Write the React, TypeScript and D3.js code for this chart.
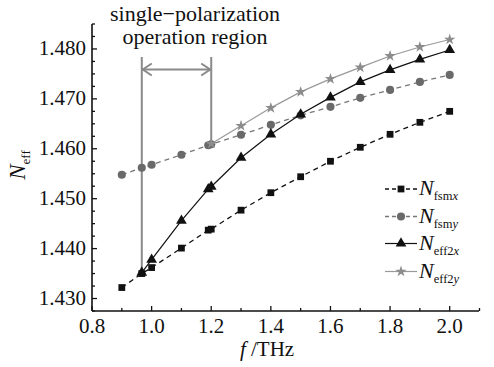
import React, { useEffect, useState } from 'react';
import * as d3 from 'd3';

// frequency (THz) and effective index values
const freqFsm = [0.9, 0.967, 1.0, 1.1, 1.19, 1.2, 1.3, 1.4, 1.5, 1.6, 1.7, 1.8, 1.9, 2.0];
const fsmX = [1.4322, 1.435, 1.4362, 1.4401, 1.4437, 1.4439, 1.4477, 1.4512, 1.4544, 1.4575, 1.4603, 1.4629, 1.4653, 1.4675];
const fsmY = [1.4548, 1.4562, 1.4568, 1.4588, 1.4607, 1.4609, 1.4628, 1.4648, 1.4667, 1.4684, 1.4702, 1.4718, 1.4734, 1.4748];
const freqEff2x = [0.967, 1.0, 1.1, 1.19, 1.2, 1.3, 1.4, 1.5, 1.6, 1.7, 1.8, 1.9, 2.0];
const eff2X = [1.4352, 1.4378, 1.4456, 1.4519, 1.4524, 1.4582, 1.4629, 1.4669, 1.4703, 1.4734, 1.4758, 1.4779, 1.4798];
const freqEff2y = [1.2, 1.3, 1.4, 1.5, 1.6, 1.7, 1.8, 1.9, 2.0];
const eff2Y = [1.461, 1.4646, 1.4682, 1.4714, 1.474, 1.4763, 1.4786, 1.4804, 1.4819];

const xTicks = [0.8, 1.0, 1.2, 1.4, 1.6, 1.8, 2.0];
const xMinor = [0.9, 1.1, 1.3, 1.5, 1.7, 1.9, 2.1];
const yTicks = [1.43, 1.44, 1.45, 1.46, 1.47, 1.48];
const regionEdges = [0.967, 1.2];

const FONT = 'Liberation Serif, Times New Roman, serif';
const INK = '#111';
const ANN = '#8a8a8a';

const left = 92, right = 479, top = 24, bottom = 311;
const x = d3.scaleLinear().domain([0.8, 2.1]).range([left, right + 0.5]);
const y = d3.scaleLinear().domain([1.4275, 1.485]).range([bottom, top]);
const yMinor = d3.range(0, 24).map(i => 1.4275 + i * 0.0025).filter(v => !yTicks.some(t => Math.abs(t - v) < 1e-6));

const series = [
  { xs: freqFsm, ys: fsmX, line: INK, dash: '5,4', width: 1.3, marker: d3.symbolSquare, size: 46, fill: INK, main: 'fsm', sub: 'x' },
  { xs: freqFsm, ys: fsmY, line: '#777', dash: '5,4', width: 1.3, marker: d3.symbolCircle, size: 52, fill: '#6a6a6a', main: 'fsm', sub: 'y' },
  { xs: freqEff2x, ys: eff2X, line: INK, dash: undefined, width: 1.2, marker: d3.symbolTriangle, size: 50, fill: INK, main: 'eff2', sub: 'x' },
  { xs: freqEff2y, ys: eff2Y, line: '#999', dash: undefined, width: 1.2, marker: d3.symbolStar, size: 40, fill: '#8c8c8c', main: 'eff2', sub: 'y' },
];

const lineGen = d3.line<[number, number]>().x(d => x(d[0])).y(d => y(d[1]));
const legendY = [189, 216.5, 243.5, 271.5];

const App: React.FC = () => {
  // remount the svg once fonts are in, so text is laid out with the serif face
  const [pass, setPass] = useState(0);
  useEffect(() => {
    const bump = () => setPass(p => p + 1);
    document.fonts?.ready.then(bump);
    const t1 = setTimeout(bump, 60);
    const t2 = setTimeout(bump, 250);
    return () => { clearTimeout(t1); clearTimeout(t2); };
  }, []);

  const ax1 = x(regionEdges[0]);
  const ax2 = x(regionEdges[1]);
  const ay = 69.5;
  const lineEnds = [y(eff2X[0]), y(fsmY[5])];

  return (
    <svg key={pass} width={494} height={367} fontFamily={FONT}
      style={{ position: 'absolute', left: 0, top: 0, background: '#fff', fontFamily: FONT }}>
      {/* axes */}
      <line x1={left} x2={left} y1={top} y2={bottom} stroke={INK} strokeWidth={1.6} />
      <line x1={left} x2={right} y1={bottom} y2={bottom} stroke={INK} strokeWidth={1.6} />
      {xTicks.map(t => (
        <g key={t}>
          <line x1={x(t)} x2={x(t)} y1={bottom} y2={bottom - 5} stroke={INK} strokeWidth={1.3} />
          <text x={x(t)} y={333} textAnchor="middle" fontSize={21} fill={INK}>{t.toFixed(1)}</text>
        </g>
      ))}
      {xMinor.map(t => (
        <line key={t} x1={x(t)} x2={x(t)} y1={bottom} y2={bottom - 3} stroke={INK} strokeWidth={1.3} />
      ))}
      {yTicks.map(t => (
        <g key={t}>
          <line x1={left} x2={left + 5} y1={y(t)} y2={y(t)} stroke={INK} strokeWidth={1.3} />
          <text x={left - 6} y={y(t) + 6.5} textAnchor="end" fontSize={21} fill={INK}>{t.toFixed(3)}</text>
        </g>
      ))}
      {yMinor.map(t => (
        <line key={t} x1={left} x2={left + 3} y1={y(t)} y2={y(t)} stroke={INK} strokeWidth={1.3} />
      ))}

      {/* axis titles */}
      <text x={267} y={356} textAnchor="middle" fontSize={21} fill={INK}>
        <tspan fontStyle="italic">f</tspan> /THz
      </text>
      <text transform="translate(25,165) rotate(-90)" textAnchor="middle" fill={INK}>
        <tspan fontStyle="italic" fontSize={23}>N</tspan>
        <tspan fontSize={13} dy={5}>eff</tspan>
      </text>

      {/* single-polarization region annotation */}
      {regionEdges.map((f, i) => (
        <line key={f} x1={x(f)} x2={x(f)} y1={57} y2={lineEnds[i]} stroke={ANN} strokeWidth={2} />
      ))}
      <line x1={ax1} x2={ax2} y1={ay} y2={ay} stroke={ANN} strokeWidth={2} />
      <path
        d={`M${ax1 + 10},${ay - 6}L${ax1 + 1},${ay}L${ax1 + 10},${ay + 6}M${ax2 - 10},${ay - 6}L${ax2 - 1},${ay}L${ax2 - 10},${ay + 6}`}
        fill="none" stroke={ANN} strokeWidth={2} />
      <text x={195} y={21} textAnchor="middle" fontSize={22} fill={INK}>single{'\u2212'}polarization</text>
      <text x={195} y={44} textAnchor="middle" fontSize={22} fill={INK}>operation region</text>

      {/* series */}
      {series.map((s, si) => {
        const pts = s.xs.map((f, i) => [f, s.ys[i]] as [number, number]);
        const sym = d3.symbol().type(s.marker).size(s.size)() ?? '';
        return (
          <g key={si}>
            <path d={lineGen(pts) ?? ''} fill="none" stroke={s.line} strokeWidth={s.width} strokeDasharray={s.dash} />
            {pts.map((d, i) => (
              <path key={i} transform={`translate(${x(d[0])},${y(d[1])})`} d={sym} fill={s.fill} />
            ))}
          </g>
        );
      })}

      {/* legend */}
      {series.map((s, i) => {
        const ly = legendY[i];
        const sym = d3.symbol().type(s.marker).size(s.size)() ?? '';
        return (
          <g key={i}>
            <line x1={385} x2={417} y1={ly} y2={ly} stroke={s.line} strokeWidth={s.width} strokeDasharray={s.dash ? '4,3' : undefined} />
            <path transform={`translate(401,${ly})`} d={sym} fill={s.fill} />
            <text x={419} y={ly + 6} fill={INK}>
              <tspan fontStyle="italic" fontSize={22}>N</tspan>
              <tspan fontSize={12.5} dy={5}>{s.main}</tspan>
              <tspan fontSize={12.5} fontStyle="italic">{s.sub}</tspan>
            </text>
          </g>
        );
      })}
    </svg>
  );
};

export default App;
